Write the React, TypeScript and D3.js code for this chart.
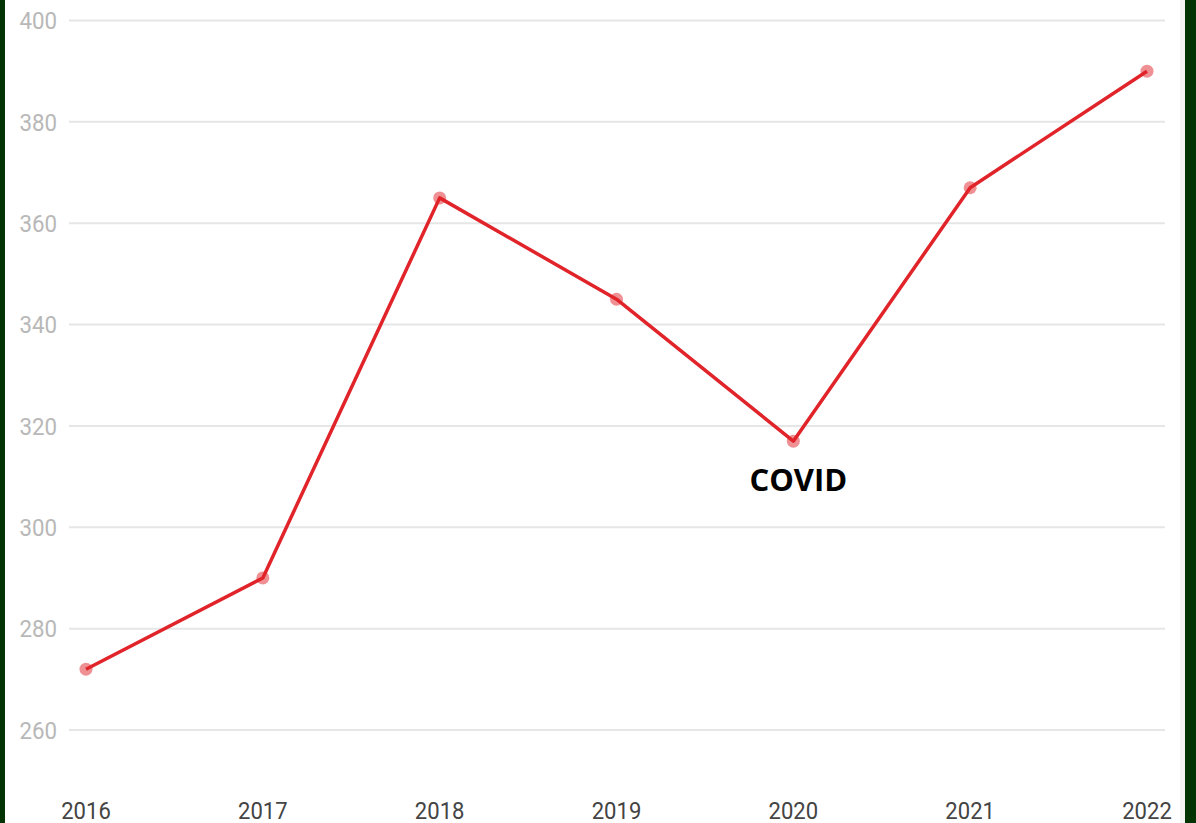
import React from "react";
import * as d3 from "d3";

const years = ["2016", "2017", "2018", "2019", "2020", "2021", "2022"];
const values = [272, 290, 365, 345, 317, 367, 390];
const yTicks = [260, 280, 300, 320, 340, 360, 380, 400];
const annotation = { year: "2020", label: "COVID" };

const W = 1196;
const H = 823;

export default function App() {
  const x = d3.scalePoint<string>().domain(years).range([86, 1147]);
  const y = d3.scaleLinear().domain([260, 400]).range([730, 20.5]);
  const line = d3
    .line<number>()
    .x((_, i) => x(years[i]) as number)
    .y((d) => y(d));
  const annIdx = years.indexOf(annotation.year);

  return (
    <svg
      width={W}
      height={H}
      style={{ position: "absolute", left: 0, top: 0, background: "#fff" }}
    >
      <rect x={0} y={0} width={W} height={H} fill="#fff" />
      {yTicks.map((t) => (
        <g key={t}>
          <line x1={69} x2={1165} y1={y(t)} y2={y(t)} stroke="#e6e6e6" strokeWidth={2} />
          <g transform={`translate(57,${y(t)}) scale(0.91,1)`}>
            <text
              x={0}
              y={0}
              dy="0.36em"
              textAnchor="end"
              fontFamily="Roboto"
              fontSize={24.5}
              fill="#b8b8b8"
            >
              {t}
            </text>
          </g>
        </g>
      ))}
      {years.map((yr) => (
        <g key={yr} transform={`translate(${x(yr)},819) scale(0.92,1)`}>
          <text
            x={0}
            y={0}
            textAnchor="middle"
            fontFamily="Roboto"
            fontSize={24}
            fill="#444"
          >
            {yr}
          </text>
        </g>
      ))}
      <path d={line(values) || ""} fill="none" stroke="#e0242a" strokeWidth={3.5} strokeLinejoin="round" />
      {values.map((v, i) => (
        <circle key={i} cx={x(years[i])} cy={y(v)} r={6.5} fill="#e0242a" fillOpacity={0.5} />
      ))}
      <text
        x={(x(annotation.year) as number) + 5}
        y={y(values[annIdx]) + 50}
        textAnchor="middle"
        fontFamily="Open Sans"
        fontWeight="bold"
        fontSize={31}
        fill="#000"
      >
        {annotation.label}
      </text>
      <rect x={0} y={0} width={5} height={H} fill="#023302" />
      <rect x={1180} y={0} width={5} height={H} fill="#f4f4f4" />
      <rect x={1185} y={0} width={11} height={H} fill="#023302" />
    </svg>
  );
}
